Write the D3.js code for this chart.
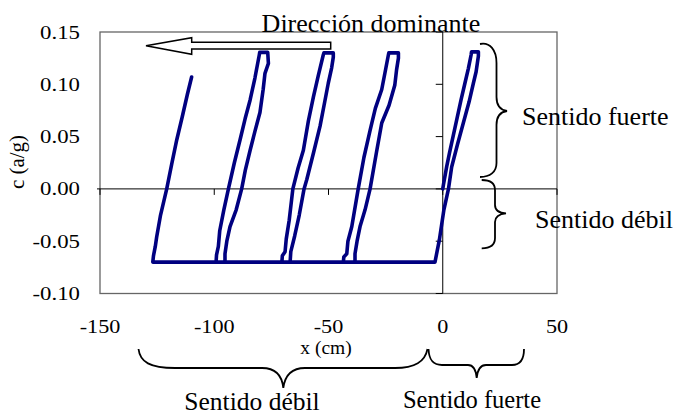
<!DOCTYPE html>
<html>
<head>
<meta charset="utf-8">
<script src="https://cdn.jsdelivr.net/npm/d3@7"></script>
<style>
html,body{margin:0;padding:0;background:#fff;}
svg{display:block;}
text{font-family:"Liberation Serif","Times New Roman",serif;fill:#000;}
</style>
</head>
<body>
<svg id="chart" width="676" height="416"></svg>
<script>
// ---- data ----
const xTicks = [-150, -100, -50, 0, 50];
const yTicks = [-0.10, -0.05, 0.00, 0.05, 0.10, 0.15];
const yTickLabels = ["-0.10", "-0.05", "0.00", "0.05", "0.10", "0.15"];
const xTitle = "x (cm)";
const yTitle = "c (a/g)";
const pathX = [
  0, 0.3, 1.7, 3.0, 4.5, 6.1, 8.0, 9.7, 11.2, 12.4, 12.6, 15.6, 15.6, 14.6, 13.4, 11.5, 9.0, 6.5, 3.9, 2.5, 0.5, -1.5, -2.5, -3.4,
  -43.5, -43.3, -42.0, -41.5, -39.8, -37.0, -34.5, -31.8, -29.5, -26.7, -25.2, -23.8, -23.6, -19.4, -19.4, -20.2, -21.0, -23.5, -26.7, -29.0, -31.8, -34.0, -36.2, -37.5, -38.4, -38.4,
  -70.4, -70.2, -69.0, -68.5, -67.2, -65.6, -63.3, -61.0, -58.8, -56.6, -54.5, -52.3, -52.0, -47.9, -47.9, -48.6, -50.1, -51.5, -53.7, -56.5, -59.5, -60.7, -62.8, -64.8, -66.5, -66.8,
  -99.2, -99.0, -98.2, -97.6, -95.8, -93.8, -91.2, -88.7, -86.5, -84.3, -82.2, -80.3, -80.1, -76.6, -76.3, -77.8, -78.6, -80.0, -82.2, -84.3, -86.4, -88.0, -90.4, -93.1, -94.5, -95.3, -95.3,
  -126.9, -126.6, -125.8, -125.2, -123.5, -120.8, -118.6, -116.4, -114.0, -111.8, -109.9
];
const pathC = [
  0, 0.004, 0.021, 0.035, 0.050, 0.066, 0.085, 0.101, 0.115, 0.128, 0.131, 0.131, 0.127, 0.112, 0.101, 0.083, 0.063, 0.043, 0.021, 0.000, -0.020, -0.049, -0.060, -0.070,
  -0.070, -0.065, -0.062, -0.050, -0.036, 0.000, 0.030, 0.056, 0.077, 0.095, 0.112, 0.128, 0.130, 0.130, 0.125, 0.114, 0.099, 0.080, 0.063, 0.035, 0.000, -0.020, -0.036, -0.050, -0.062, -0.070,
  -0.070, -0.064, -0.060, -0.048, -0.030, 0.000, 0.020, 0.037, 0.065, 0.088, 0.108, 0.128, 0.130, 0.130, 0.126, 0.116, 0.101, 0.085, 0.060, 0.035, 0.009, 0.000, -0.025, -0.045, -0.060, -0.070,
  -0.070, -0.063, -0.055, -0.040, -0.020, 0.000, 0.025, 0.047, 0.067, 0.085, 0.106, 0.128, 0.1305, 0.1305, 0.120, 0.1105, 0.095, 0.073, 0.055, 0.037, 0.018, 0.000, -0.020, -0.036, -0.050, -0.062, -0.070,
  -0.070, -0.064, -0.055, -0.046, -0.025, 0.000, 0.024, 0.047, 0.069, 0.090, 0.107
];

// ---- layout ----
const svg = d3.select("#chart");
const L = 100, R = 557, T = 32, B = 293.5;
const x = d3.scaleLinear().domain([-150, 50]).range([L, R]);
const y = d3.scaleLinear().domain([-0.10, 0.15]).range([B, T]);

// plot border
svg.append("rect").attr("x", L).attr("y", T).attr("width", R - L).attr("height", B - T)
  .attr("fill", "none").attr("stroke", "#666").attr("stroke-width", 1.3);

// zero axes
const x0 = x(0), y0 = y(0);
svg.append("line").attr("x1", L - 3).attr("x2", R).attr("y1", y0).attr("y2", y0)
  .attr("stroke", "#000").attr("stroke-width", 1);
svg.append("line").attr("x1", x0).attr("x2", x0).attr("y1", T).attr("y2", B)
  .attr("stroke", "#000").attr("stroke-width", 1);

// ticks on zero axes
svg.selectAll(".xt").data(xTicks).enter().append("line")
  .attr("x1", d => x(d)).attr("x2", d => x(d)).attr("y1", y0).attr("y2", y0 + 6)
  .attr("stroke", "#000").attr("stroke-width", 1);
svg.selectAll(".yt").data(yTicks).enter().append("line")
  .attr("x1", x0 - 7).attr("x2", x0).attr("y1", d => y(d)).attr("y2", d => y(d))
  .attr("stroke", "#000").attr("stroke-width", 1);

// tick labels (low position)
svg.selectAll(".xl").data(xTicks).enter().append("text")
  .attr("transform", d => `translate(${x(d)},332.5) scale(1.2,1)`)
  .attr("text-anchor", "middle").style("font-size", "18.5px")
  .text(d => String(d));
svg.selectAll(".yl").data(yTicks).enter().append("text")
  .attr("transform", (d, i) => `translate(80,${y(d) + 6.5}) scale(1.2,1)`)
  .attr("text-anchor", "end").style("font-size", "19px")
  .text((d, i) => yTickLabels[i]);

// axis titles
svg.append("text").attr("x", 326).attr("y", 354).attr("text-anchor", "middle")
  .style("font-size", "19.5px").text(xTitle);
svg.append("text").attr("transform", "translate(24,162) rotate(-90)").attr("text-anchor", "middle")
  .style("font-size", "21px").text(yTitle);

// data path
const pts = pathX.map((v, i) => [v, pathC[i]]);
svg.append("path").datum(pts)
  .attr("d", d3.line().x(d => x(d[0])).y(d => y(d[1])))
  .attr("fill", "none").attr("stroke", "#000080").attr("stroke-width", 3.6)
  .attr("stroke-linejoin", "round").attr("stroke-linecap", "round");

// arrow annotation
svg.append("path")
  .attr("d", "M146,45.7 L191.7,37.7 L191.7,42.3 L330.7,42.3 L330.7,49 L191.7,49 L191.7,54.3 Z")
  .attr("fill", "#fff").attr("stroke", "#000").attr("stroke-width", 1.5);
svg.append("text").attr("x", 371).attr("y", 31.5).attr("text-anchor", "middle")
  .style("font-size", "26px").text("Dirección dominante");

// braces
const braceStyle = s => s.attr("fill", "none").attr("stroke", "#000").attr("stroke-width", 1.8);
svg.append("path").call(braceStyle)
  .attr("d", "M480,44 C490,42 496.5,50 496.5,63 L496.5,97 C496.5,105 500,110 507,111 C500,112 496.5,117 496.5,125 L496.5,163 C496.5,172 490,177 480,177");
svg.append("path").call(braceStyle)
  .attr("d", "M481.7,180 C490,180 495,183 495,190 L495,205 C495,210 499,213 506,213.3 C499,214 495,217 495,222 L495,238 C495,245 490,248.3 481.7,248.3");
svg.append("path").call(braceStyle)
  .attr("d", "M138.5,349 C140,362 150,368 175,368 L262,368 C275,368 282,375 283.3,388 C285,375 292,368 305,368 L395,368 C415,368 425,362 427.5,349");
svg.append("path").call(braceStyle)
  .attr("d", "M428.5,349 C429,360 433,365 442,365 L468,365 C473,365 476,370 476.7,378 C477.5,370 480,365 486,365 L512,365 C520,365 524,360 524,349");

svg.append("text").attr("x", 522).attr("y", 125).style("font-size", "26px").text("Sentido fuerte");
svg.append("text").attr("x", 535).attr("y", 228).style("font-size", "26px").text("Sentido débil");
svg.append("text").attr("x", 252).attr("y", 410).attr("text-anchor", "middle").style("font-size", "25.5px").text("Sentido débil");
svg.append("text").attr("x", 472).attr("y", 408).attr("text-anchor", "middle").style("font-size", "24.5px").text("Sentido fuerte");
</script>
</body>
</html>
